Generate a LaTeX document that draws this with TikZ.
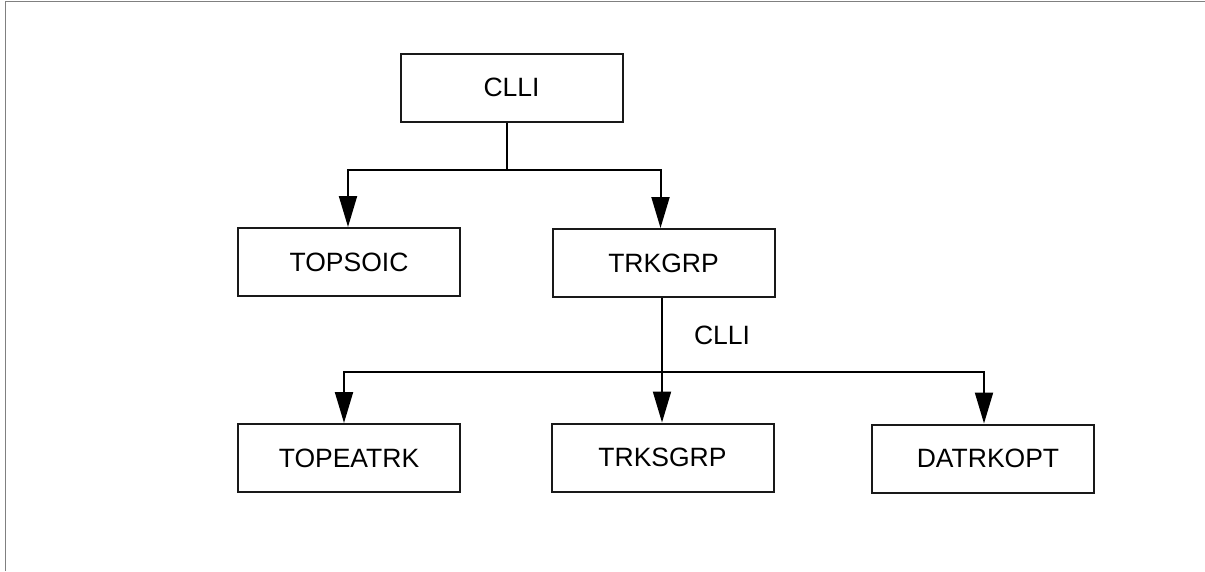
\documentclass[tikz,border=0pt]{standalone}
\usepackage{fontspec}
\setmainfont{Liberation Sans}
\usetikzlibrary{arrows.meta}
\begin{document}
\begin{tikzpicture}[x=1pt,y=-1pt,
  tbox/.style={draw=black!90, line width=2pt, minimum width=222pt, minimum height=68pt,
    inner sep=0pt, font=\fontsize{26.5}{30}\selectfont},
  conn/.style={draw=black, line width=2pt},
  arr/.style={conn, -{Triangle[length=31pt,width=18pt]}},
  lbl/.style={font=\fontsize{26.5}{30}\selectfont, inner sep=0pt},
  frame/.style={draw=black!50, line width=1.6pt}]
\useasboundingbox (0,0) rectangle (1205,571);
\fill[white] (0,0) rectangle (1205,571);
\coordinate (ftl) at (5.5,1.5);
\coordinate (ftr) at (1205,1.5);
\coordinate (fbl) at (5.5,571);
\draw[frame] (fbl) -- (ftl) -- (ftr);

\node[tbox] (clli) at (511.5,87.5) {CLLI};
\node[tbox] (topsoic) at (349,262) {TOPSOIC};
\node[tbox] (trkgrp) at (663.5,263) {TRKGRP};
\node[tbox] (topeatrk) at (349,458) {TOPEATRK};
\node[tbox] (trksgrp) at (662.5,457.5) {TRKSGRP};
\node[tbox] (datrkopt) at (983,458.5) {\hspace*{10pt}DATRKOPT};
\node[lbl] (cllilbl) at (722,335) {CLLI};

\coordinate (j1) at (507,170);
\coordinate (j2) at (662,372);
\draw[conn] (clli.south -| j1) -- (j1);
\draw[arr] (j1) -| ([xshift=-1pt]topsoic.north);
\draw[arr] (j1) -| ([xshift=-3pt]trkgrp.north);
\draw[conn] (trkgrp.south -| j2) -- (j2);
\draw[arr] (j2) -| ([xshift=-5pt]topeatrk.north);
\draw[arr] (j2) -- (trksgrp.north -| j2);
\draw[arr] (j2) -| ([xshift=1pt]datrkopt.north);
\end{tikzpicture}
\end{document}
